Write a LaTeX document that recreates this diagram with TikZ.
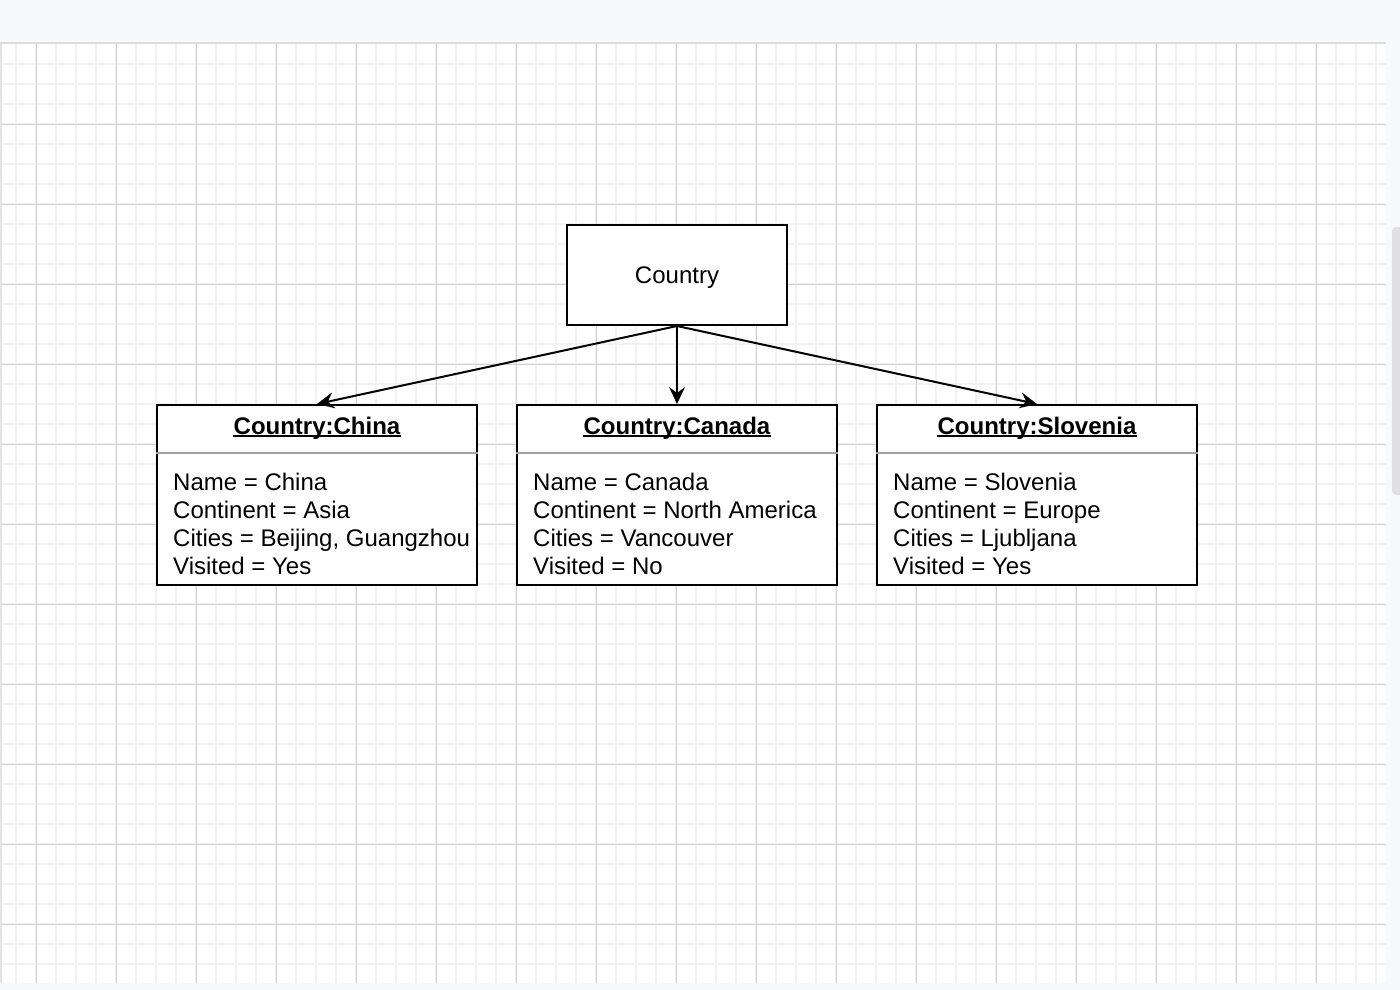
\documentclass[tikz,border=0pt]{standalone}
\usepackage{fontspec}
\setmainfont{Liberation Sans}
\usetikzlibrary{arrows.meta}
\definecolor{chrome}{RGB}{248,249,250}
\definecolor{gridminor}{RGB}{242,242,242}
\definecolor{gridmajor}{RGB}{208,208,208}
\definecolor{sepgray}{RGB}{160,160,160}
\definecolor{thumb}{RGB}{224,224,226}
\definecolor{edgegray}{RGB}{228,228,230}
\definecolor{shadegray}{RGB}{220,220,222}
\tikzset{
  objbox/.style={draw=black, line width=2pt, fill=white, minimum width=320pt, minimum height=180pt, inner sep=0pt},
  classbox/.style={draw=black, line width=2pt, fill=white, minimum width=220pt, minimum height=100pt, inner sep=0pt,
                   text height=17.5pt, text depth=0pt, font=\fontsize{24}{28}\selectfont},
  hdrtext/.style={inner sep=0pt, anchor=base, font=\fontsize{24}{28}\selectfont\bfseries},
  attr/.style={inner sep=0pt, anchor=base west, font=\fontsize{24}{28}\selectfont},
  uline/.style={line width=1.6pt, black},
  sepline/.style={line width=2pt, sepgray},
  arr/.style={line width=2pt, -{Stealth[length=17pt, width=16pt, inset=6pt]}},
}
\begin{document}
\begin{tikzpicture}[x=1pt, y=-1pt]
\useasboundingbox (0,0) rectangle (1400,990);
% window chrome around the canvas
\fill[chrome] (0,0) rectangle (1400,990);
\fill[white] (2,44) rectangle (1386,983);
\fill[edgegray] (0,44) rectangle (2,983);
\draw[line width=2pt, shadegray] (0,43) -- (1386,43);
\fill[thumb, rounded corners=4pt] (1392,227) rectangle (1404,495);
% drawing grid
\begin{scope}
  \clip (2,44) rectangle (1386,983);
  \foreach \gx in {16,36,...,1376} \draw[gridminor, line width=2pt] (\gx,44) -- (\gx,983);
  \foreach \gy in {64,84,...,964} \draw[gridminor, line width=2pt] (2,\gy) -- (1386,\gy);
  \foreach \gx in {36,116,...,1356} \draw[gridmajor, line width=1pt] (\gx,44) -- (\gx,983);
  \foreach \gy in {124,204,...,924} \draw[gridmajor, line width=1pt] (2,\gy) -- (1386,\gy);
\end{scope}

% class node
\node[classbox] (country) at (677,275) {Country};

% object boxes
\node[objbox] (china) at (317,495) {};
\node[objbox] (canada) at (677,495) {};
\node[objbox] (slovenia) at (1037,495) {};

% headers with underline and separator
\foreach \obj/\title in {china/Country:China, canada/Country:Canada, slovenia/Country:Slovenia} {
  \node[hdrtext] (\obj-hdr) at (\obj.center |- 0,434) {\title};
  \draw[uline] ([yshift=-2pt]\obj-hdr.base west) -- ([yshift=-2pt]\obj-hdr.base east);
  \draw[sepline] (\obj.west |- 0,453) -- (\obj.east |- 0,453);
}

% attribute lines
\node[attr] (china-a1) at (173,490) {Name = China};
\node[attr] (china-a2) at (173,518) {Continent = Asia};
\node[attr] (china-a3) at (173,546) {Cities = Beijing, Guangzhou};
\node[attr] (china-a4) at (173,574) {Visited = Yes};

\node[attr] (canada-a1) at (533,490) {Name = Canada};
\node[attr] (canada-a2) at (533,518) {Continent = North America};
\node[attr] (canada-a3) at (533,546) {Cities = Vancouver};
\node[attr] (canada-a4) at (533,574) {Visited = No};

\node[attr] (slovenia-a1) at (893,490) {Name = Slovenia};
\node[attr] (slovenia-a2) at (893,518) {Continent = Europe};
\node[attr] (slovenia-a3) at (893,546) {Cities = Ljubljana};
\node[attr] (slovenia-a4) at (893,574) {Visited = Yes};

% instance connectors
\draw[arr] (country.south) -- (china.north);
\draw[arr] (country.south) -- (canada.north);
\draw[arr] (country.south) -- (slovenia.north);
\end{tikzpicture}
\end{document}
